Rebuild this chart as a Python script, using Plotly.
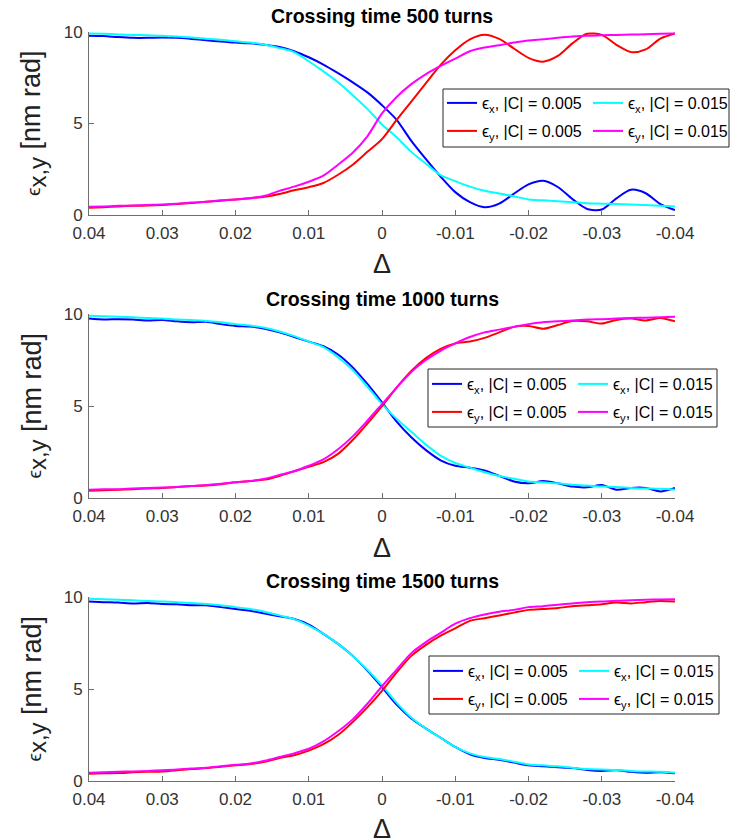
import plotly.graph_objects as go

# ---------------- data ----------------
delta = [0.040, 0.038, 0.036, 0.034, 0.032, 0.030, 0.028, 0.026, 0.024, 0.022,
         0.020, 0.018, 0.016, 0.014, 0.012, 0.010, 0.008, 0.006, 0.004, 0.002,
         0.000, -0.002, -0.004, -0.006, -0.008, -0.010, -0.012, -0.014, -0.016, -0.018,
         -0.020, -0.022, -0.024, -0.026, -0.028, -0.030, -0.032, -0.034, -0.036, -0.038,
         -0.040]

panel_titles = ["Crossing time 500 turns", "Crossing time 1000 turns", "Crossing time 1500 turns"]
series_names = ["ϵ<sub>x</sub>, |C| = 0.005", "ϵ<sub>x</sub>, |C| = 0.015",
                "ϵ<sub>y</sub>, |C| = 0.005", "ϵ<sub>y</sub>, |C| = 0.015"]
series_colors = ["#0000FF", "#00FFFF", "#FF0000", "#FF00FF"]

x_tick_vals = [0.04, 0.03, 0.02, 0.01, 0.0, -0.01, -0.02, -0.03, -0.04]
x_tick_text = ["0.04", "0.03", "0.02", "0.01", "0", "-0.01", "-0.02", "-0.03", "-0.04"]
y_tick_vals = [0, 5, 10]
y_tick_text = ["0", "5", "10"]

# Crossing time 500 turns
ex_c005_t500 = [9.80, 9.78, 9.72, 9.68, 9.68, 9.70, 9.68, 9.62, 9.55, 9.48,
                9.42, 9.38, 9.30, 9.18, 8.95, 8.62, 8.22, 7.75, 7.25, 6.70,
                6.00, 5.20, 4.05, 3.05, 2.10, 1.25, 0.70, 0.42, 0.62, 1.16,
                1.67, 1.87, 1.53, 0.87, 0.33, 0.30, 0.91, 1.38, 1.19, 0.59,
                0.27]
ex_c015_t500 = [9.92, 9.90, 9.87, 9.84, 9.82, 9.80, 9.75, 9.70, 9.63, 9.57,
                9.50, 9.42, 9.30, 9.12, 8.90, 8.40, 7.85, 7.25, 6.55, 5.80,
                4.95, 4.25, 3.45, 2.80, 2.18, 1.85, 1.55, 1.32, 1.18, 1.02,
                0.85, 0.80, 0.75, 0.70, 0.64, 0.62, 0.60, 0.57, 0.55, 0.50,
                0.46]
ey_c005_t500 = [0.40, 0.43, 0.47, 0.50, 0.52, 0.55, 0.60, 0.65, 0.72, 0.78,
                0.85, 0.92, 1.00, 1.15, 1.35, 1.52, 1.75, 2.20, 2.75, 3.45,
                4.15, 5.20, 6.20, 7.20, 8.20, 9.00, 9.60, 9.85, 9.62, 9.10,
                8.59, 8.38, 8.69, 9.38, 9.90, 9.84, 9.30, 8.90, 9.05, 9.64,
                9.92]
ey_c015_t500 = [0.45, 0.47, 0.50, 0.52, 0.55, 0.57, 0.62, 0.68, 0.72, 0.80,
                0.85, 0.92, 1.05, 1.32, 1.55, 1.82, 2.15, 2.75, 3.40, 4.30,
                5.55, 6.45, 7.15, 7.70, 8.15, 8.55, 8.95, 9.15, 9.28, 9.42,
                9.54, 9.60, 9.68, 9.75, 9.80, 9.82, 9.84, 9.86, 9.88, 9.90,
                9.92]

# Crossing time 1000 turns
ex_c005_t1000 = [9.75, 9.70, 9.72, 9.70, 9.65, 9.68, 9.60, 9.55, 9.58, 9.45,
                 9.35, 9.32, 9.20, 9.00, 8.75, 8.50, 8.25, 7.80, 7.10, 6.20,
                 5.20, 4.15, 3.30, 2.60, 2.05, 1.75, 1.65, 1.50, 1.20, 0.90,
                 0.80, 0.92, 0.80, 0.62, 0.58, 0.70, 0.45, 0.55, 0.55, 0.36,
                 0.55]
ex_c015_t1000 = [9.90, 9.88, 9.85, 9.82, 9.78, 9.75, 9.70, 9.68, 9.62, 9.55,
                 9.45, 9.38, 9.25, 9.05, 8.80, 8.50, 8.20, 7.65, 6.95, 6.05,
                 5.10, 4.30, 3.60, 2.90, 2.30, 1.90, 1.65, 1.40, 1.20, 1.05,
                 0.90, 0.85, 0.80, 0.72, 0.68, 0.62, 0.60, 0.55, 0.52, 0.50,
                 0.45]
ey_c005_t1000 = [0.40, 0.42, 0.45, 0.48, 0.52, 0.55, 0.60, 0.65, 0.68, 0.75,
                 0.85, 0.92, 1.00, 1.20, 1.45, 1.70, 1.95, 2.40, 3.15, 4.05,
                 5.00, 6.00, 6.90, 7.60, 8.10, 8.40, 8.50, 8.70, 9.00, 9.30,
                 9.35, 9.20, 9.40, 9.62, 9.60, 9.48, 9.68, 9.75, 9.65, 9.78,
                 9.60]
ey_c015_t1000 = [0.45, 0.47, 0.48, 0.52, 0.55, 0.57, 0.60, 0.65, 0.70, 0.78,
                 0.85, 0.92, 1.05, 1.25, 1.45, 1.75, 2.10, 2.65, 3.35, 4.20,
                 5.10, 6.00, 6.85, 7.50, 8.00, 8.40, 8.75, 9.00, 9.15, 9.30,
                 9.45, 9.55, 9.60, 9.65, 9.70, 9.72, 9.75, 9.78, 9.80, 9.83,
                 9.85]

# Crossing time 1500 turns
ex_c005_t1500 = [9.75, 9.72, 9.70, 9.65, 9.68, 9.62, 9.60, 9.55, 9.55, 9.45,
                 9.35, 9.25, 9.10, 8.95, 8.80, 8.50, 8.00, 7.45, 6.80, 6.00,
                 5.10, 4.15, 3.40, 2.85, 2.35, 1.85, 1.45, 1.25, 1.15, 1.00,
                 0.85, 0.80, 0.75, 0.70, 0.60, 0.55, 0.58, 0.50, 0.45, 0.48,
                 0.42]
ex_c015_t1500 = [9.90, 9.88, 9.85, 9.82, 9.78, 9.75, 9.72, 9.68, 9.62, 9.55,
                 9.45, 9.35, 9.20, 9.00, 8.80, 8.45, 8.00, 7.45, 6.80, 6.05,
                 5.20, 4.25, 3.45, 2.85, 2.35, 1.85, 1.50, 1.30, 1.20, 1.05,
                 0.90, 0.85, 0.80, 0.72, 0.65, 0.62, 0.60, 0.55, 0.52, 0.50,
                 0.45]
ey_c005_t1500 = [0.40, 0.42, 0.43, 0.47, 0.50, 0.52, 0.58, 0.65, 0.70, 0.78,
                 0.85, 0.92, 1.05, 1.25, 1.40, 1.65, 2.00, 2.50, 3.20, 4.00,
                 4.90, 5.90, 6.80, 7.40, 7.90, 8.30, 8.70, 8.85, 9.00, 9.15,
                 9.30, 9.35, 9.40, 9.50, 9.55, 9.60, 9.70, 9.65, 9.72, 9.78,
                 9.75]
ey_c015_t1500 = [0.45, 0.47, 0.50, 0.52, 0.55, 0.58, 0.62, 0.68, 0.72, 0.80,
                 0.88, 0.95, 1.10, 1.30, 1.50, 1.75, 2.15, 2.70, 3.35, 4.20,
                 5.15, 6.05, 6.95, 7.55, 8.05, 8.55, 8.85, 9.05, 9.20, 9.30,
                 9.45, 9.50, 9.58, 9.65, 9.72, 9.75, 9.80, 9.82, 9.85, 9.87,
                 9.88]

panel_series = [
    [ex_c005_t500, ex_c015_t500, ey_c005_t500, ey_c015_t500],
    [ex_c005_t1000, ex_c015_t1000, ey_c005_t1000, ey_c015_t1000],
    [ex_c005_t1500, ex_c015_t1500, ey_c005_t1500, ey_c015_t1500],
]

# ---------------- layout geometry (pixels) ----------------
W, H = 733, 840
FONT = "Liberation Sans, Arial, Helvetica, sans-serif"
AX_COLOR = "#6e6e6e"
TXT_COLOR = "#333333"

plot_left, plot_right = 89, 675
panel_rows = [(32, 215), (314, 498), (597, 781)]
title_y = [15.5, 299, 581]
xlabel_y = [264, 548, 829]
legend_boxes = [(443, 89, 729, 147), (428, 369, 717, 427), (429, 656, 719, 714)]
legend_rows = [(103, 131), (384, 412), (671, 699)]


def fx(p):
    return p / W


def fy(p):
    return 1 - p / H


fig = go.Figure()
layout = dict(
    width=W, height=H,
    margin=dict(l=0, r=0, t=0, b=0, autoexpand=False),
    paper_bgcolor="white", plot_bgcolor="white",
    font=dict(family=FONT, color=TXT_COLOR),
    hovermode=False,
    annotations=[], shapes=[],
)

for i in range(3):
    n = "" if i == 0 else str(i + 1)
    top, bot = panel_rows[i]
    leg_a = "legend" if i == 0 else "legend%d" % (2 * i + 1)
    leg_b = "legend%d" % (2 * i + 2)
    for k in range(4):
        fig.add_trace(go.Scatter(
            x=delta, y=panel_series[i][k], mode="lines",
            line=dict(color=series_colors[k], width=2, shape="spline", smoothing=0.8),
            name=series_names[k], xaxis="x" + n, yaxis="y" + n,
            legend=leg_a if k < 2 else leg_b, showlegend=True,
        ))

    layout["xaxis" + n] = dict(
        domain=[fx(plot_left), fx(plot_right)], anchor="y" + n,
        range=[0.04, -0.04], tickmode="array", tickvals=x_tick_vals, ticktext=x_tick_text,
        ticks="inside", ticklen=5, tickwidth=1, tickcolor=AX_COLOR,
        showline=True, linecolor=AX_COLOR, linewidth=1, mirror=False,
        showgrid=False, zeroline=False, ticklabelstandoff=3,
        tickfont=dict(size=17, color=TXT_COLOR, family=FONT),
    )
    layout["yaxis" + n] = dict(
        domain=[fy(bot), fy(top)], anchor="x" + n,
        range=[0, 10], tickmode="array", tickvals=y_tick_vals, ticktext=y_tick_text,
        ticks="inside", ticklen=5, tickwidth=1, tickcolor=AX_COLOR,
        showline=True, linecolor=AX_COLOR, linewidth=1, mirror=False,
        showgrid=False, zeroline=False, ticklabelstandoff=2,
        tickfont=dict(size=17, color=TXT_COLOR, family=FONT),
    )

    cx = (plot_left + plot_right) / 2
    layout["annotations"].append(dict(
        text="<b>" + panel_titles[i] + "</b>", xref="paper", yref="paper",
        x=fx(cx), y=fy(title_y[i]), xanchor="center", yanchor="middle",
        showarrow=False, font=dict(size=19.5, color="black", family=FONT)))
    layout["annotations"].append(dict(
        text="Δ", xref="paper", yref="paper",
        x=fx(cx), y=fy(xlabel_y[i]), xanchor="center", yanchor="middle",
        showarrow=False, font=dict(size=27, color="#222222", family=FONT)))
    layout["annotations"].append(dict(
        text="<span style='font-size:19px'>ϵ</span><sub><span style='font-size:24px'>x,y</span></sub> [nm rad]",
        xref="paper", yref="paper", textangle=-90,
        x=fx(33.5), y=fy((top + bot) / 2), xanchor="center", yanchor="middle",
        showarrow=False, font=dict(size=27, color="#222222", family=FONT)))

    bx0, by0, bx1, by1 = legend_boxes[i]
    layout["shapes"].append(dict(
        type="rect", xref="paper", yref="paper",
        x0=fx(bx0), x1=fx(bx1), y0=fy(by1), y1=fy(by0),
        fillcolor="white", line=dict(color="#262626", width=1), layer="above"))
    for leg_name, row_y in ((leg_a, legend_rows[i][0]), (leg_b, legend_rows[i][1])):
        layout[leg_name] = dict(
            orientation="h", x=fx(bx0 - 1), y=fy(row_y), xanchor="left", yanchor="middle",
            bgcolor="rgba(0,0,0,0)", borderwidth=0,
            font=dict(size=16, color="black", family=FONT),
            entrywidth=101, entrywidthmode="pixels", itemwidth=30,
            traceorder="normal", itemclick=False, itemdoubleclick=False,
        )

fig.update_layout(**layout)
fig.write_html("out.html", config={"displayModeBar": False},
               post_script="document.body.style.margin='0px';")
